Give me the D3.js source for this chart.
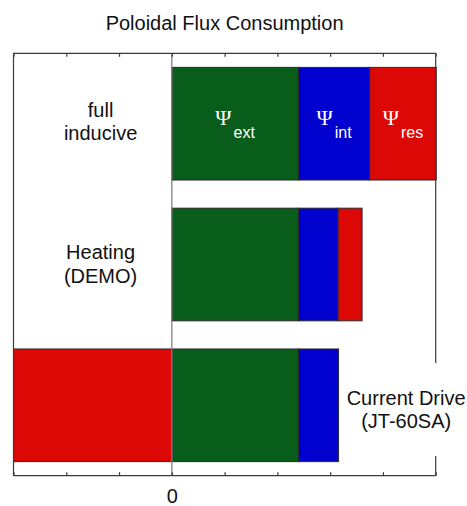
<!DOCTYPE html>
<html><head><meta charset="utf-8">
<script src="https://cdn.jsdelivr.net/npm/d3@7"></script>
<style>
html,body{margin:0;padding:0;background:#fff;overflow:hidden;}
svg{display:block;font-family:"Liberation Sans",Arial,sans-serif;}
</style></head>
<body>
<svg id="chart" width="467" height="506"></svg>
<script>
// ---- data ----
const categories = ["full inducive", "Heating (DEMO)", "Current Drive (JT-60SA)"];
const labelLines = [["full", "inducive"], ["Heating", "(DEMO)"], ["Current Drive", "(JT-60SA)"]];
const psiExt = [2.4, 2.4, 2.4];
const psiInt = [1.35, 0.75, 0.76];
const psiRes = [1.26, 0.455, -3.0];
const seriesKeys = ["ext", "int", "res"];
const seriesSubs = ["ext", "int", "res"];
const xTicks = [-3, -2, -1, 0, 1, 2, 3, 4, 5];
const xTickLabels = ["0"]; // only zero labelled
const chartTitle = "Poloidal Flux Consumption";

(function () {
// ---- layout ----
const pL = 13.5, pR = 435.7, pT = 53.3, pB = 475.7;
const colors = {ext: "#095d1b", int: "#0000cf", res: "#dc0806"};
const labelPos = [{x: -1.35, dy: -7}, {x: -1.35, dy: -5.5}, {x: 4.44, dy: -0.5}];

const svg = d3.select("#chart");
const x = d3.scaleLinear().domain([-3, 5]).range([pL, pR]);
const y = d3.scaleBand().domain(categories).range([pT, pB]).paddingInner(0.2).paddingOuter(0.1);

const rows = categories.map((c, i) => ({cat: c, ext: psiExt[i], int: psiInt[i], res: psiRes[i]}));
const stacked = d3.stack().keys(seriesKeys).offset(d3.stackOffsetDiverging)(rows);

// title
svg.append("text").attr("x", (pL + pR) / 2).attr("y", 30)
  .attr("text-anchor", "middle").attr("font-size", 20).attr("fill", "#111").text(chartTitle);

// bars
stacked.forEach(s => {
  svg.append("g").selectAll("rect").data(s).join("rect")
    .attr("x", d => x(Math.min(d[0], d[1])))
    .attr("width", d => Math.abs(x(d[1]) - x(d[0])))
    .attr("y", d => y(d.data.cat))
    .attr("height", y.bandwidth())
    .attr("fill", colors[s.key])
    .attr("stroke", "#2a2a2a").attr("stroke-width", 1);
});

// zero line
svg.append("line").attr("x1", x(0)).attr("x2", x(0)).attr("y1", pT).attr("y2", pB)
  .attr("stroke", "#808080").attr("stroke-width", 1.3);

// psi labels on first bar
const first = categories[0];
stacked.forEach((s, k) => {
  const d = s[0];
  const cx = (x(d[0]) + x(d[1])) / 2;
  const cy = y(first) + y.bandwidth() / 2;
  const t = svg.append("text").attr("x", cx).attr("y", cy + 1)
    .attr("text-anchor", "middle").attr("fill", "#fff");
  t.append("tspan").attr("font-family", "'Liberation Serif','DejaVu Serif',serif")
    .attr("font-size", 22).text("\u03A8");
  t.append("tspan").attr("dx", 2).attr("dy", 13).attr("font-size", 16).text(seriesSubs[k]);
});

// category labels
labelLines.forEach((lines, i) => {
  const cy = y(categories[i]) + y.bandwidth() / 2 + labelPos[i].dy;
  lines.forEach((ln, j) => {
    svg.append("text").attr("x", x(labelPos[i].x)).attr("y", cy + j * 23.5)
      .attr("text-anchor", "middle").attr("font-size", 20).attr("fill", "#111").text(ln);
  });
});

// frame
const fr = svg.append("g").attr("stroke", "#3a3a3a").attr("stroke-width", 1.2).attr("fill", "none");
fr.append("line").attr("x1", pL).attr("x2", pR).attr("y1", pT).attr("y2", pT);
fr.append("line").attr("x1", pL).attr("x2", pR).attr("y1", pB).attr("y2", pB);
fr.append("line").attr("x1", pL).attr("x2", pL).attr("y1", pT).attr("y2", pB);
fr.append("line").attr("x1", pR).attr("x2", pR).attr("y1", pT).attr("y2", 363);
fr.append("line").attr("x1", pR).attr("x2", pR).attr("y1", 456).attr("y2", pB);

// ticks (inward) via axes
const topAxis = d3.axisTop(x).tickValues(xTicks).tickSize(-3.5).tickFormat("");
const botAxis = d3.axisBottom(x).tickValues(xTicks).tickSize(-3.5)
  .tickFormat(d => xTickLabels.includes(String(d)) ? String(d) : "");
const gt = svg.append("g").attr("transform", `translate(0,${pT})`).call(topAxis);
const gb = svg.append("g").attr("transform", `translate(0,${pB})`).call(botAxis);
[gt, gb].forEach(g => {
  g.select(".domain").remove();
  g.selectAll(".tick line").attr("stroke", "#3a3a3a").attr("stroke-width", 1.2);
});
gb.selectAll(".tick text").attr("font-size", 20).attr("fill", "#111")
  .attr("font-family", "'Liberation Sans',Arial,sans-serif").attr("y", 13).attr("dy", "0.71em");
})();
</script>
</body></html>
